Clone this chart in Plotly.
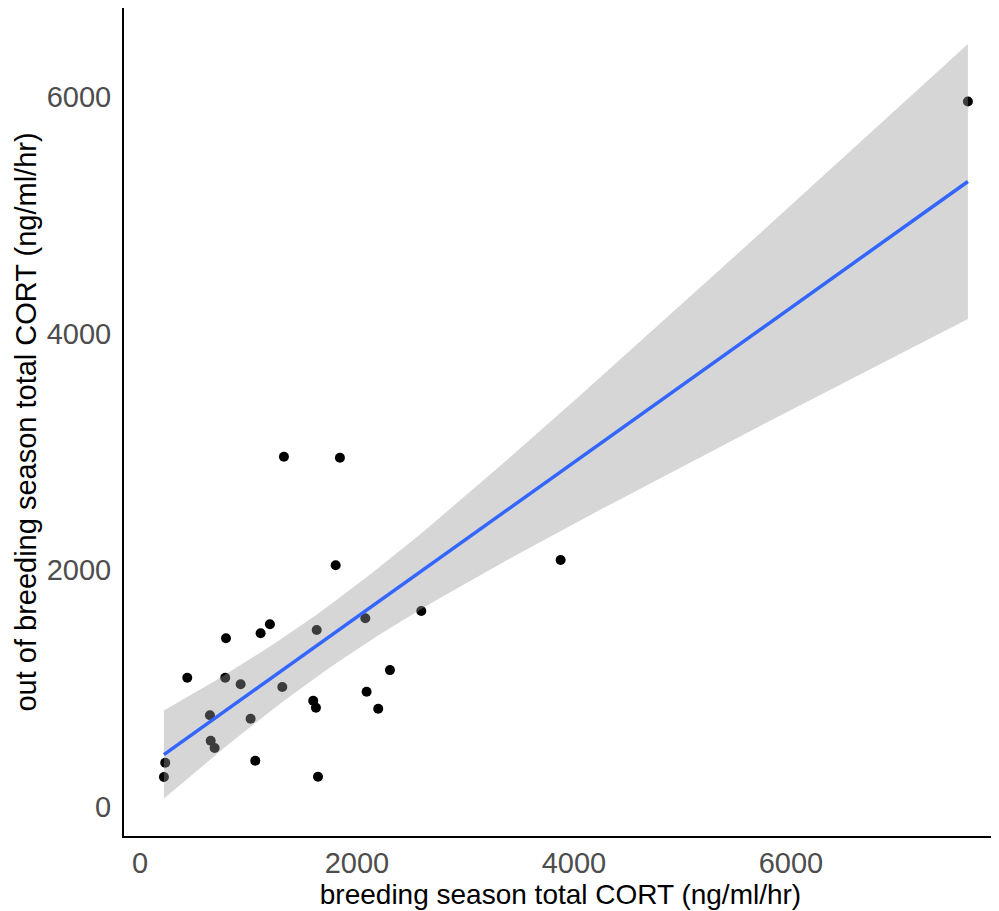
import numpy as np
import plotly.graph_objects as go

# breeding season total CORT (x) vs out of breeding season total CORT (y)
breeding_cort = [793, 1112, 1198, 1629, 2077, 2593, 436, 786, 928, 1312, 2304, 2089,
                 2196, 1597, 1622, 645, 1020, 652, 688, 233, 221, 1063, 1641, 1327,
                 1843, 1804, 3877, 7631]
out_breeding_cort = [1426, 1468, 1544, 1496, 1595, 1656, 1093, 1093, 1037, 1014, 1157, 974,
                     831, 898, 839, 775, 746, 560, 499, 374, 254, 391, 256, 2960,
                     2952, 2043, 2087, 5962]
x_ticks = [0, 2000, 4000, 6000]
y_ticks = [0, 2000, 4000, 6000]

x = np.array(breeding_cort, dtype=float)
y = np.array(out_breeding_cort, dtype=float)
n = len(x)

# linear model fit with 95% confidence band (as geom_smooth(method="lm"))
b1, b0 = np.polyfit(x, y, 1)
resid = y - (b0 + b1 * x)
s = np.sqrt(np.sum(resid ** 2) / (n - 2))
xm = x.mean()
sxx = np.sum((x - xm) ** 2)
t_crit = 2.0555  # t(0.975, df=26)
xg = np.linspace(x.min(), x.max(), 80)
yg = b0 + b1 * xg
se = s * np.sqrt(1.0 / n + (xg - xm) ** 2 / sxx)
lo = yg - t_crit * se
hi = yg + t_crit * se

fig = go.Figure()
fig.add_trace(go.Scatter(x=x, y=y, mode="markers",
                         marker=dict(color="black", size=10, line=dict(width=0)),
                         showlegend=False, hoverinfo="skip"))
fig.add_trace(go.Scatter(x=xg, y=lo, mode="lines", line=dict(width=0),
                         showlegend=False, hoverinfo="skip"))
fig.add_trace(go.Scatter(x=xg, y=hi, mode="lines", line=dict(width=0),
                         fill="tonexty", fillcolor="rgba(153,153,153,0.4)",
                         showlegend=False, hoverinfo="skip"))
fig.add_trace(go.Scatter(x=xg, y=yg, mode="lines",
                         line=dict(color="#3366FF", width=3.5),
                         showlegend=False, hoverinfo="skip"))

font_family = "Liberation Sans, Arial, sans-serif"
fig.update_layout(
    width=991, height=903,
    margin=dict(l=116, r=2, t=0, b=75),
    paper_bgcolor="white", plot_bgcolor="white",
    font=dict(family=font_family, color="black"),
    xaxis=dict(range=[-147, 7899], tickvals=x_ticks, ticktext=[str(v) for v in x_ticks],
               showgrid=False, zeroline=False, showline=True, linecolor="black",
               linewidth=2, ticks="", ticklen=0, automargin=False,
               tickfont=dict(size=29, color="#4d4d4d"),
               title=dict(text="breeding season total CORT (ng/ml/hr)",
                          font=dict(size=28, color="black"), standoff=0)),
    yaxis=dict(range=[-245, 6752], tickvals=y_ticks, ticktext=[str(v) for v in y_ticks],
               showgrid=False, zeroline=False, showline=True, linecolor="black",
               linewidth=2, ticks="", ticklen=0, automargin=False,
               ticklabelstandoff=5,
               tickfont=dict(size=29, color="#4d4d4d"),
               title=dict(text="out of breeding season total CORT (ng/ml/hr)",
                          font=dict(size=29, color="black"), standoff=2)),
)
fig.write_html("out.html")
